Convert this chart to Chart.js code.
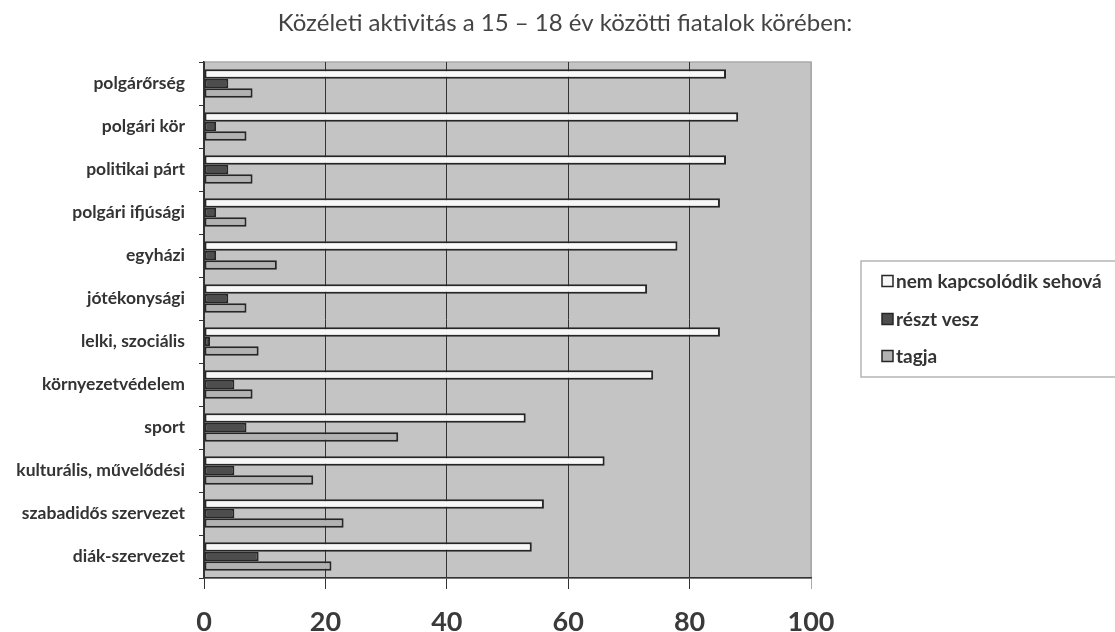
<!DOCTYPE html>
<html>
<head>
<meta charset="utf-8">
<script src="https://cdn.jsdelivr.net/npm/chart.js@4/dist/chart.umd.min.js"></script>
<style>
  html, body { margin: 0; padding: 0; background: #fff; }
  #wrap { width: 1115px; height: 632px; }
</style>
</head>
<body>
<div id="wrap"><canvas id="aktivitasChart" width="1115" height="632"></canvas></div>
<script>
    // Categories, top to bottom
    const categories = [
        "polgárőrség", "polgári kör", "politikai párt", "polgári ifjúsági",
        "egyházi", "jótékonysági", "lelki, szociális", "környezetvédelem",
        "sport", "kulturális, művelődési", "szabadidős szervezet", "diák-szervezet"
    ];
    const seriesNames = ["nem kapcsolódik sehová", "részt vesz", "tagja"];
    const nemKapcsolodik = [86, 88, 86, 85, 78, 73, 85, 74, 53, 66, 56, 54];
    const resztVesz = [4, 2, 4, 2, 2, 4, 1, 5, 7, 5, 5, 9];
    const tagja = [8, 7, 8, 7, 12, 7, 9, 8, 32, 18, 23, 21];
    const xTicks = [0, 20, 40, 60, 80, 100];

    const titleText = "Közéleti aktivitás a 15 – 18 év közötti fiatalok körében:";
    const fillColors = ["#f7f7f7", "#4d4d4d", "#b2b2b2"];
    const edge = "#262626";

    // plot background + light top/right frame
    const plotBg = {
        id: "plotBg",
        beforeDraw(chart) {
            const { ctx, chartArea: a } = chart;
            ctx.save();
            ctx.fillStyle = "#c4c4c4";
            ctx.fillRect(a.left, a.top, a.right - a.left, a.bottom - a.top);
            ctx.strokeStyle = "#a9a9a9";
            ctx.lineWidth = 1.5;
            ctx.strokeRect(a.left, a.top, a.right - a.left, a.bottom - a.top);
            ctx.restore();
        }
    };

    // title and boxed legend on the right
    const extras = {
        id: "extras",
        afterDraw(chart) {
            const ctx = chart.ctx;
            ctx.save();
            ctx.fillStyle = "#444";
            ctx.font = "24px Lato";
            ctx.textAlign = "center";
            ctx.textBaseline = "middle";
            ctx.fillText(titleText, 565, 23);

            ctx.strokeStyle = "#b5b5b5";
            ctx.lineWidth = 1.5;
            ctx.strokeRect(861, 261, 270, 116);

            const rows = [281, 319, 356];
            ctx.font = "bold 19px Lato";
            ctx.textAlign = "left";
            chart.data.datasets.forEach((ds, i) => {
                ctx.fillStyle = ds.backgroundColor;
                ctx.fillRect(882, rows[i] - 5.5, 11, 11);
                ctx.strokeStyle = edge;
                ctx.lineWidth = 1.5;
                ctx.strokeRect(882, rows[i] - 5.5, 11, 11);
                ctx.fillStyle = "#333";
                ctx.fillText(ds.label, 896, rows[i] + 1);
            });
            ctx.restore();
        }
    };

    const ctx = document.getElementById("aktivitasChart").getContext("2d");
    new Chart(ctx, {
        type: "bar",
        data: {
            labels: categories,
            datasets: [nemKapcsolodik, resztVesz, tagja].map((vals, i) => ({
                label: seriesNames[i],
                data: vals,
                backgroundColor: fillColors[i],
                borderColor: edge,
                borderWidth: 2,
                borderSkipped: false,
                categoryPercentage: 0.66,
                barPercentage: 1
            }))
        },
        options: {
            indexAxis: "y",
            responsive: false,
            animation: false,
            layout: { padding: { top: 62, right: 304, bottom: 0, left: 0 } },
            plugins: {
                legend: { display: false },
                title: { display: false },
                tooltip: { enabled: false }
            },
            scales: {
                x: {
                    min: 0,
                    max: 100,
                    afterBuildTicks: (scale) => { scale.ticks = xTicks.map(v => ({ value: v })); },
                    afterFit: (scale) => { scale.height = 54; },
                    grid: {
                        color: (c) => (c.tick && c.tick.value === 100 ? "#a9a9a9" : "#333"),
                        lineWidth: 1,
                        tickLength: 11
                    },
                    border: { color: "#333", width: 1.5 },
                    ticks: {
                        color: "#3a3a3a",
                        font: { family: "Lato", size: 27, weight: "bold" },
                        padding: 17,
                        maxRotation: 0
                    }
                },
                y: {
                    afterFit: (scale) => { scale.width = 204; },
                    grid: { drawOnChartArea: false, color: "#333", tickLength: 5 },
                    border: { color: "#333", width: 1.5 },
                    ticks: {
                        color: "#333",
                        font: { family: "Lato", size: 17.5, weight: "bold" },
                        padding: 14
                    }
                }
            }
        },
        plugins: [plotBg, extras]
    });
</script>
</body>
</html>
